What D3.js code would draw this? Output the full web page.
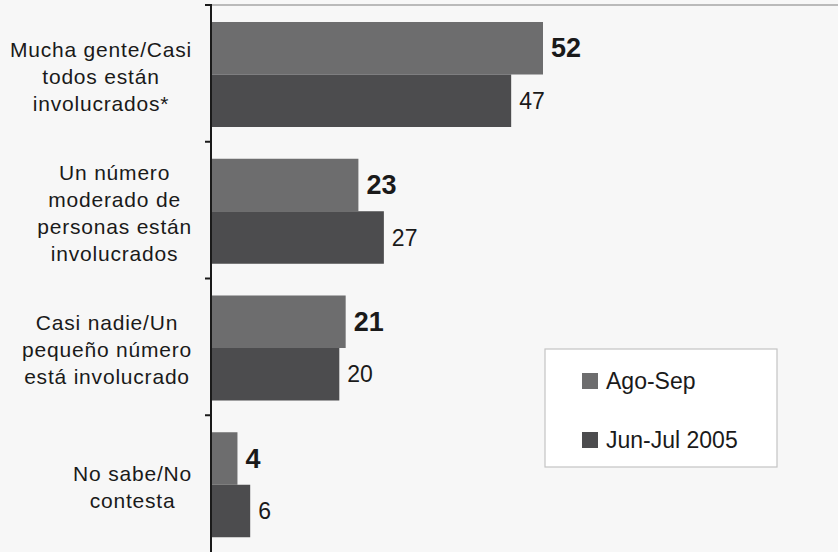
<!DOCTYPE html>
<html>
<head>
<meta charset="utf-8">
<script src="https://cdn.jsdelivr.net/npm/d3@7"></script>
<style>
  body { margin: 0; background: #f7f7f7; }
  svg { display: block; font-family: "Liberation Sans", Arial, sans-serif; }
</style>
</head>
<body>
<svg width="838" height="552"></svg>
<script>
// chart data
var categories = ["c1", "c2", "c3", "c4"];
var categoryLabels = [
  ["Mucha gente/Casi", "todos están", "involucrados*"],
  ["Un número", "moderado de", "personas están", "involucrados"],
  ["Casi nadie/Un", "pequeño número", "está involucrado"],
  ["No sabe/No", "contesta"]
];
var seriesNames = ["Ago-Sep", "Jun-Jul 2005"];
var agoSep = [52, 23, 21, 4];
var junJul = [47, 27, 20, 6];

var colors = ["#6d6d6e", "#4c4c4e"];
var svg = d3.select("svg");

var axisX = 211;
var xScale = d3.scaleLinear().domain([0, 52]).range([axisX + 1, 543]);
var yScale = d3.scaleBand().domain(categories).range([5, 552]);
var ySub = d3.scaleBand().domain(seriesNames).range([17, 122]);

var rows = categories.map(function(c, i) {
  return {cat: c, lines: categoryLabels[i], vals: [agoSep[i], junJul[i]]};
});

// top border line
svg.append("line")
  .attr("x1", axisX).attr("x2", 838)
  .attr("y1", 5).attr("y2", 5)
  .attr("stroke", "#a6a6a6").attr("stroke-width", 1.5);

// bars
var groups = svg.selectAll("g.row").data(rows).enter().append("g")
  .attr("class", "row")
  .attr("transform", function(d) { return "translate(0," + yScale(d.cat) + ")"; });

groups.selectAll("rect").data(function(d) {
  return d.vals.map(function(v, j) { return {v: v, s: seriesNames[j], j: j}; });
}).enter().append("rect")
  .attr("x", xScale(0))
  .attr("y", function(d) { return ySub(d.s); })
  .attr("width", function(d) { return xScale(d.v) - xScale(0); })
  .attr("height", ySub.bandwidth())
  .attr("fill", function(d) { return colors[d.j]; });

// value labels
groups.selectAll("text.val").data(function(d) {
  return d.vals.map(function(v, j) { return {v: v, s: seriesNames[j], j: j}; });
}).enter().append("text")
  .attr("class", "val")
  .attr("x", function(d) { return xScale(d.v) + 8; })
  .attr("y", function(d) { return ySub(d.s) + ySub.bandwidth() / 2; })
  .attr("dominant-baseline", "central")
  .attr("font-size", function(d) { return d.j === 0 ? 27 : 23; })
  .attr("font-weight", function(d) { return d.j === 0 ? "bold" : "normal"; })
  .attr("fill", "#1a1a1a")
  .text(function(d) { return d.v; });

// category labels, block right-aligned, lines centred
groups.each(function(d) {
  var g = d3.select(this);
  var mid = yScale.bandwidth() / 2 + 3;
  var n = d.lines.length;
  var t = g.selectAll("text.cat").data(d.lines).enter().append("text")
    .attr("class", "cat")
    .attr("y", function(l, i) { return mid + (i - (n - 1) / 2) * 27; })
    .attr("dominant-baseline", "central")
    .attr("text-anchor", "middle")
    .attr("font-size", 21)
    .attr("letter-spacing", 0.8)
    .attr("fill", "#1a1a1a")
    .text(function(l) { return l; });
  var w = 0;
  t.each(function() { w = Math.max(w, this.getComputedTextLength()); });
  t.attr("x", 192 - w / 2);
});

// axis line and ticks
svg.append("line")
  .attr("x1", axisX).attr("x2", axisX)
  .attr("y1", 4).attr("y2", 552)
  .attr("stroke", "#1a1a1a").attr("stroke-width", 2);
svg.selectAll("line.tick").data(categories).enter().append("line")
  .attr("class", "tick")
  .attr("x1", axisX - 6).attr("x2", axisX)
  .attr("y1", function(c) { return yScale(c); })
  .attr("y2", function(c) { return yScale(c); })
  .attr("stroke", "#1a1a1a").attr("stroke-width", 2);

// legend
var legend = svg.append("g").attr("transform", "translate(545,349)");
legend.append("rect")
  .attr("width", 232).attr("height", 118)
  .attr("fill", "#ffffff").attr("stroke", "#c4c4c4").attr("stroke-width", 1.2);
var items = legend.selectAll("g.item").data(seriesNames).enter().append("g")
  .attr("class", "item")
  .attr("transform", function(d, i) { return "translate(37," + (24 + i * 59) + ")"; });
items.append("rect")
  .attr("width", 16).attr("height", 16)
  .attr("fill", function(d, i) { return colors[i]; });
items.append("text")
  .attr("x", 24).attr("y", 8)
  .attr("dominant-baseline", "central")
  .attr("font-size", 23)
  .attr("fill", "#1a1a1a")
  .text(function(d) { return d; });
</script>
</body>
</html>
